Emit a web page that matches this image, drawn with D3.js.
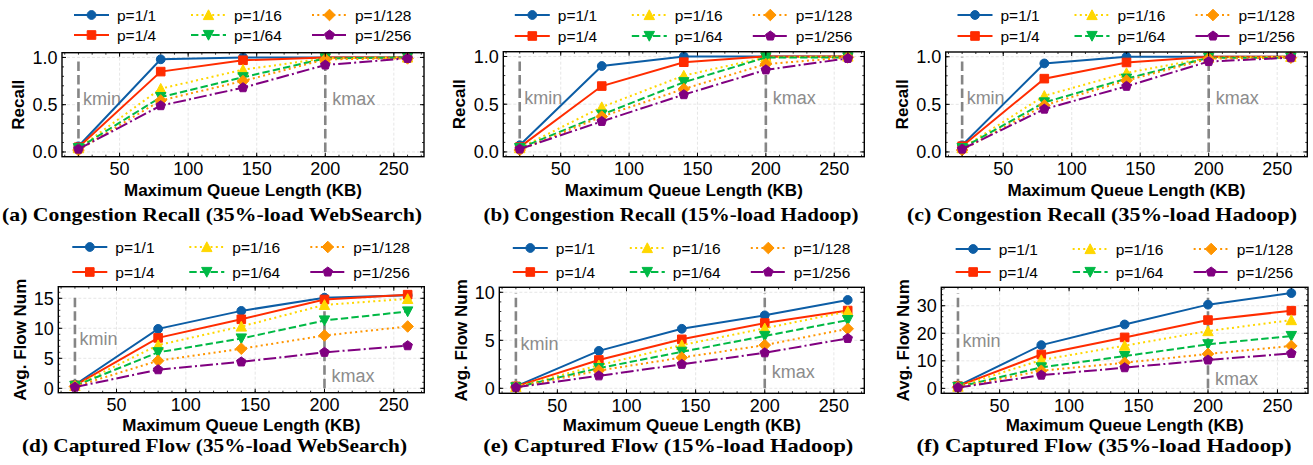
<!DOCTYPE html>
<html>
<head>
<meta charset="utf-8">
<script src="https://cdn.jsdelivr.net/npm/d3@7"></script>
<style>
  body { margin: 0; background: #fff; }
  svg { display: block; font-family: "Liberation Sans", Arial, sans-serif; }
</style>
</head>
<body>
<script>
// x values shared by all six panels (KB)
var queueLength = [20, 80, 140, 200, 260]
var sampleRates = ["p=1/1", "p=1/4", "p=1/16", "p=1/64", "p=1/128", "p=1/256"]
var kmin = 20
var kmax = 200

// congestion recall, one row per sample rate
var recallWeb35 = [
  [0.06, 0.98, 1.00, 1.00, 1.00],
  [0.05, 0.85, 0.97, 1.00, 1.00],
  [0.04, 0.67, 0.87, 0.99, 1.00],
  [0.04, 0.58, 0.79, 0.99, 1.00],
  [0.02, 0.545, 0.75, 0.98, 0.99],
  [0.03, 0.49, 0.68, 0.92, 0.99]
]
var recallHadoop15 = [
  [0.07, 0.90, 1.00, 1.00, 1.00],
  [0.05, 0.69, 0.94, 1.00, 1.00],
  [0.04, 0.47, 0.80, 0.99, 1.00],
  [0.04, 0.39, 0.73, 0.99, 0.99],
  [0.02, 0.37, 0.66, 0.92, 0.99],
  [0.03, 0.32, 0.60, 0.86, 0.98]
]
var recallHadoop35 = [
  [0.07, 0.93, 1.00, 1.00, 1.00],
  [0.06, 0.77, 0.94, 1.00, 1.00],
  [0.04, 0.59, 0.83, 0.99, 1.00],
  [0.04, 0.52, 0.77, 0.99, 0.99],
  [0.02, 0.49, 0.75, 0.98, 0.99],
  [0.03, 0.45, 0.69, 0.95, 0.99]
]

// average number of captured flows
var flowWeb35 = [
  [0.6, 9.9, 12.9, 15.1, 15.5],
  [0.5, 8.4, 11.5, 14.8, 15.6],
  [0.4, 7.2, 10.3, 13.9, 14.9],
  [0.4, 6.0, 8.3, 11.3, 12.8],
  [0.3, 4.6, 6.6, 8.8, 10.3],
  [0.2, 3.1, 4.4, 6.0, 7.1]
]
var flowHadoop15 = [
  [0.2, 3.9, 6.2, 7.6, 9.2],
  [0.2, 2.95, 5.1, 6.8, 8.1],
  [0.15, 2.4, 4.5, 6.25, 8.0],
  [0.1, 2.1, 3.8, 5.45, 7.1],
  [0.1, 1.85, 3.2, 4.5, 6.2],
  [0.1, 1.3, 2.5, 3.7, 5.2]
]
var flowHadoop35 = [
  [0.9, 15.7, 23.2, 30.4, 34.6],
  [0.8, 12.3, 18.5, 24.8, 28.2],
  [0.6, 10.3, 15.5, 20.8, 24.8],
  [0.5, 7.6, 11.7, 16.0, 19.0],
  [0.4, 6.4, 9.3, 12.5, 15.4],
  [0.3, 4.8, 7.5, 10.3, 12.7]
]

var xTicks = [50, 100, 150, 200, 250]
var recallTicks = [0.0, 0.5, 1.0]
var flowWeb35Ticks = [0, 5, 10, 15]
var flowHadoop15Ticks = [0, 5, 10]
var flowHadoop35Ticks = [0, 10, 20, 30]

var captions = [
  "(a) Congestion Recall (35%-load WebSearch)",
  "(b) Congestion Recall (15%-load Hadoop)",
  "(c) Congestion Recall (35%-load Hadoop)",
  "(d) Captured Flow (35%-load WebSearch)",
  "(e) Captured Flow (15%-load Hadoop)",
  "(f) Captured Flow (35%-load Hadoop)"
]

// styles for each sample rate
var colors = ["#0C5DA5", "#FF2C00", "#FFD700", "#00B945", "#FF9500", "#800080"]
var dashes = [null, null, "2,3.3", "7.4,3.2", "2,3.3", "12.8,3.2,2,3.2"]
var markers = ["circle", "square", "triangleUp", "triangleDown", "diamond", "pentagon"]

// panel layout (plot frame in pixels), not data
var panels = [
  {data: recallWeb35, ticks: recallTicks, minor: 0.1, yDomain: [-0.05, 1.05], yLabel: "Recall", vTop: 1.0,
   box: {l: 62, r: 424, t: 52.7, b: 156.7}, legendY: [15, 35], kY: [0.5, 0.5], labelOff: 44, xlabY: 39, capX: 212, capY: 221, capW: 420},
  {data: recallHadoop15, ticks: recallTicks, minor: 0.1, yDomain: [-0.05, 1.05], yLabel: "Recall", vTop: 1.0,
   box: {l: 503.3, r: 864.3, t: 51.7, b: 156.7}, legendY: [15, 36], kY: [0.5, 0.5], labelOff: 44, xlabY: 39, capX: 671, capY: 221, capW: 375},
  {data: recallHadoop35, ticks: recallTicks, minor: 0.1, yDomain: [-0.05, 1.05], yLabel: "Recall", vTop: 1.0,
   box: {l: 945.7, r: 1307.3, t: 52, b: 156.7}, legendY: [15, 36], kY: [0.5, 0.5], labelOff: 44, xlabY: 39, capX: 1102, capY: 221, capW: 390},
  {data: flowWeb35, ticks: flowWeb35Ticks, minor: 1, yDomain: [-0.73, 16.93], yLabel: "Avg. Flow Num", vTop: 15.7,
   box: {l: 58.3, r: 424.3, t: 286.7, b: 392.7}, legendY: [247, 272], kY: [7.3, 1.1], labelOff: 38, xlabY: 38, capX: 214.5, capY: 452, capW: 385},
  {data: flowHadoop15, ticks: flowHadoop15Ticks, minor: 1, yDomain: [-0.52, 10.52], yLabel: "Avg. Flow Num", vTop: 9.9,
   box: {l: 499.3, r: 864.3, t: 287.3, b: 393.3}, legendY: [248, 272], kY: [4.0, 1.1], labelOff: 38, xlabY: 37.5, capX: 668.3, capY: 452, capW: 370},
  {data: flowHadoop35, ticks: flowHadoop35Ticks, minor: 2, yDomain: [-1.8, 36.7], yLabel: "Avg. Flow Num", vTop: 34.5,
   box: {l: 941.3, r: 1308, t: 287.3, b: 393.3}, legendY: [249, 272], kY: [15.1, 1.2], labelOff: 38, xlabY: 37.5, capX: 1104, capY: 452, capW: 375}
]

var svg = d3.select("body")
  .append("svg")
  .attr("width", 1313)
  .attr("height", 465)

svg.append("rect")
  .attr("width", 1313)
  .attr("height", 465)
  .attr("fill", "#fff")

// marker shapes roughly matching matplotlib o s ^ v D p
function markerPath(type) {
  var p = d3.path()
  if (type == "circle") {
    p.arc(0, 0, 4.4, 0, 2 * Math.PI)
  } else if (type == "square") {
    p.rect(-4.3, -4.3, 8.6, 8.6)
  } else if (type == "triangleUp") {
    p.moveTo(0, -5.2); p.lineTo(-5.2, 4.6); p.lineTo(5.2, 4.6); p.closePath()
  } else if (type == "triangleDown") {
    p.moveTo(0, 5.2); p.lineTo(-5.2, -4.6); p.lineTo(5.2, -4.6); p.closePath()
  } else if (type == "diamond") {
    p.moveTo(0, -5.8); p.lineTo(5.8, 0); p.lineTo(0, 5.8); p.lineTo(-5.8, 0); p.closePath()
  } else {
    for (var k = 0; k < 5; k++) {
      var a = -Math.PI / 2 + k * 2 * Math.PI / 5
      if (k == 0) p.moveTo(5 * Math.cos(a), 5 * Math.sin(a))
      else p.lineTo(5 * Math.cos(a), 5 * Math.sin(a))
    }
    p.closePath()
  }
  return p.toString()
}

panels.forEach(function(panel, idx) { drawPanel(panel, idx) })

function drawPanel(panel, idx) {
  var box = panel.box
  var g = svg.append("g")

  var x = d3.scaleLinear().domain([8, 272]).range([box.l, box.r])
  var y = d3.scaleLinear().domain(panel.yDomain).range([box.b, box.t])

  // light dashed grid
  g.selectAll(".gx").data(xTicks).enter().append("line")
    .attr("x1", function(d) { return x(d) }).attr("x2", function(d) { return x(d) })
    .attr("y1", box.t).attr("y2", box.b)
    .attr("stroke", "#e0e0e0").attr("stroke-width", 0.8).attr("stroke-dasharray", "3,2")
  g.selectAll(".gy").data(panel.ticks).enter().append("line")
    .attr("x1", box.l).attr("x2", box.r)
    .attr("y1", function(d) { return y(d) }).attr("y2", function(d) { return y(d) })
    .attr("stroke", "#e0e0e0").attr("stroke-width", 0.8).attr("stroke-dasharray", "3,2")

  // kmin / kmax markers
  g.selectAll(".vl").data([kmin, kmax]).enter().append("line")
    .attr("x1", function(d) { return x(d) }).attr("x2", function(d) { return x(d) })
    .attr("y1", y(0)).attr("y2", y(panel.vTop))
    .attr("stroke", "#858585").attr("stroke-width", 2.6).attr("stroke-dasharray", "9.5,4")
  g.append("text")
    .attr("x", x(kmin) + 4.5).attr("y", y(panel.kY[0]))
    .attr("fill", "#8c8c8c").style("font-size", "18px")
    .text("kmin")
  g.append("text")
    .attr("x", x(kmax) + 7).attr("y", y(panel.kY[1]))
    .attr("fill", "#8c8c8c").style("font-size", "18px")
    .text("kmax")

  // series lines and markers
  var line = d3.line()
    .x(function(d, i) { return x(queueLength[i]) })
    .y(function(d) { return y(d) })

  panel.data.forEach(function(values, s) {
    g.append("path")
      .attr("d", line(values))
      .attr("fill", "none")
      .attr("stroke", colors[s])
      .attr("stroke-width", 2)
      .attr("stroke-dasharray", dashes[s])
    g.selectAll(".m" + s).data(values).enter().append("path")
      .attr("d", markerPath(markers[s]))
      .attr("transform", function(d, i) { return "translate(" + x(queueLength[i]) + "," + y(d) + ")" })
      .attr("fill", colors[s])
      .attr("stroke", colors[s])
      .attr("stroke-width", 1)
  })

  // ticks pointing inward on all four sides
  var xMinor = d3.range(10, 272, 10)
  var yMinor = d3.range(Math.ceil(panel.yDomain[0] / panel.minor), Math.floor(panel.yDomain[1] / panel.minor) + 1)
    .map(function(k) { return +(k * panel.minor).toFixed(3) })
  var tickSets = [[xMinor, 2], [xTicks, 4]]
  tickSets.forEach(function(ts) {
    g.selectAll(null).data(ts[0]).enter().append("path")
      .attr("d", function(d) {
        return "M" + x(d) + "," + box.b + "v" + (-ts[1]) + "M" + x(d) + "," + box.t + "v" + ts[1]
      })
      .attr("stroke", "#000").attr("stroke-width", ts[1] > 3 ? 1 : 0.8)
  })
  var yTickSets = [[yMinor, 2], [panel.ticks, 4]]
  yTickSets.forEach(function(ts) {
    g.selectAll(null).data(ts[0]).enter().append("path")
      .attr("d", function(d) {
        return "M" + box.l + "," + y(d) + "h" + ts[1] + "M" + box.r + "," + y(d) + "h" + (-ts[1])
      })
      .attr("stroke", "#000").attr("stroke-width", ts[1] > 3 ? 1 : 0.8)
  })

  // frame
  g.append("rect")
    .attr("x", box.l).attr("y", box.t)
    .attr("width", box.r - box.l).attr("height", box.b - box.t)
    .attr("fill", "none").attr("stroke", "#000").attr("stroke-width", 1.4)

  // tick labels
  g.selectAll(".xl").data(xTicks).enter().append("text")
    .attr("x", function(d) { return x(d) })
    .attr("y", box.b + 18.5)
    .attr("text-anchor", "middle")
    .style("font-size", "18px")
    .text(function(d) { return d })
  g.selectAll(".yl").data(panel.ticks).enter().append("text")
    .attr("x", box.l - 4.5)
    .attr("y", function(d) { return y(d) })
    .attr("dy", "0.36em")
    .attr("text-anchor", "end")
    .style("font-size", "18px")
    .text(function(d) { return panel.minor < 1 ? d3.format(".1f")(d) : d })

  // axis labels
  g.append("text")
    .attr("x", (box.l + box.r) / 2)
    .attr("y", box.b + panel.xlabY)
    .attr("text-anchor", "middle")
    .style("font-size", "17px")
    .style("font-weight", "bold")
    .text("Maximum Queue Length (KB)")
  g.append("text")
    .attr("transform", "translate(" + (box.l - panel.labelOff) + "," + ((box.t + box.b) / 2) + ") rotate(-90)")
    .attr("dy", "0.36em")
    .attr("text-anchor", "middle")
    .style("font-size", "17px")
    .style("font-weight", "bold")
    .text(panel.yLabel)

  // legend: 3 columns x 2 rows above the plot, centered
  var colOffsets = [0, 117, 238]
  var legendLeft = (box.l + box.r) / 2 - 169
  sampleRates.forEach(function(name, s) {
    var lx = legendLeft + colOffsets[Math.floor(s / 2)]
    var ly = panel.legendY[s % 2]
    g.append("line")
      .attr("x1", lx).attr("x2", lx + 35)
      .attr("y1", ly).attr("y2", ly)
      .attr("stroke", colors[s])
      .attr("stroke-width", 2)
      .attr("stroke-dasharray", dashes[s])
    g.append("path")
      .attr("d", markerPath(markers[s]))
      .attr("transform", "translate(" + (lx + 17.5) + "," + ly + ")")
      .attr("fill", colors[s])
      .attr("stroke", colors[s])
    g.append("text")
      .attr("x", lx + 43)
      .attr("y", ly)
      .attr("dy", "0.36em")
      .style("font-size", "15.5px")
      .text(name)
  })

  // caption under each panel
  g.append("text")
    .attr("x", panel.capX)
    .attr("y", panel.capY)
    .attr("text-anchor", "middle")
    .attr("textLength", panel.capW)
    .attr("lengthAdjust", "spacingAndGlyphs")
    .style("font-family", "'Liberation Serif', 'Times New Roman', serif")
    .style("font-size", "19px")
    .style("font-weight", "bold")
    .text(captions[idx])
}
</script>
</body>
</html>
